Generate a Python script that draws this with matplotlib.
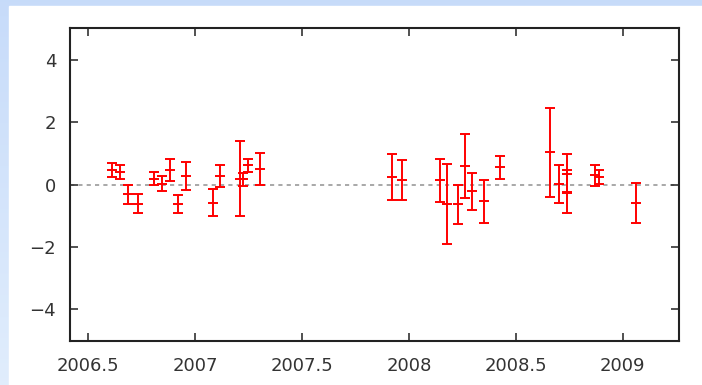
import numpy as np
import matplotlib
matplotlib.use("Agg")
import matplotlib.pyplot as plt
from matplotlib.patches import Rectangle

# epochs (decimal year), residual and 1-sigma error
t = [2006.610, 2006.649, 2006.688, 2006.734, 2006.809, 2006.847, 2006.883,
     2006.920, 2006.957, 2007.085, 2007.118, 2007.210, 2007.226, 2007.249,
     2007.305, 2007.922, 2007.969, 2008.147, 2008.177, 2008.231, 2008.261,
     2008.297, 2008.353, 2008.427, 2008.661, 2008.701, 2008.738, 2008.740,
     2008.870, 2008.890, 2009.062]
res = [0.46, 0.40, -0.31, -0.61, 0.19, 0.03, 0.46,
       -0.63, 0.27, -0.58, 0.27, 0.19, 0.17, 0.62,
       0.51, 0.24, 0.14, 0.13, -0.63, -0.64, 0.59,
       -0.22, -0.54, 0.55, 1.03, 0.03, 0.35, -0.23,
       0.30, 0.25, -0.58]
err = [0.22, 0.21, 0.31, 0.30, 0.21, 0.24, 0.35,
       0.28, 0.44, 0.42, 0.36, 1.21, 0.21, 0.21,
       0.51, 0.73, 0.63, 0.70, 1.28, 0.64, 1.03,
       0.60, 0.68, 0.36, 1.43, 0.61, 0.62, 0.68,
       0.34, 0.23, 0.64]

xticks = [2006.5, 2007, 2007.5, 2008, 2008.5, 2009]
xticklabels = ["2006.5", "2007", "2007.5", "2008", "2008.5", "2009"]
yticks = [-4, -2, 0, 2, 4]

W, H = 702, 385
fig = plt.figure(figsize=(W / 100, H / 100), dpi=100)

# pale blue page background with a white panel on top
bg = fig.add_axes([0, 0, 1, 1], zorder=-10)
grad = np.linspace(0, 1, 256).reshape(-1, 1)
top_c = np.array([0.78, 0.86, 0.98])
bot_c = np.array([0.88, 0.93, 0.99])
img = top_c + grad[..., None] * (bot_c - top_c)
bg.imshow(img, aspect="auto", extent=[0, 1, 0, 1], origin="upper")
bg.add_patch(Rectangle((9 / W, 0), 1, 1 - 6 / H, color="white"))
bg.set_xlim(0, 1)
bg.set_ylim(0, 1)
bg.axis("off")

ax = fig.add_axes([70 / W, 1 - 340.7 / H, (678.7 - 70) / W, (340.7 - 28.3) / H])
ax.set_facecolor("white")

ax.axhline(0, color="#9a9a9a", lw=1.2, ls=(0, (2.5, 2.5)), zorder=1)

ax.errorbar(t, res, yerr=err, fmt="_", color="red", ecolor="red",
            elinewidth=1.4, capsize=3.3, capthick=1.4, markersize=6.6,
            markeredgewidth=1.4, zorder=3)

ax.set_xlim(2006.415, 2009.262)
ax.set_ylim(-5, 5)
ax.set_xticks(xticks)
ax.set_xticklabels(xticklabels)
ax.set_yticks(yticks)
ax.set_yticklabels(["\u22124", "\u22122", "0", "2", "4"])
ax.tick_params(direction="in", length=6, width=1.2, top=True, right=True,
               labelsize=13, colors="#333333")
ax.tick_params(axis="x", pad=12)
ax.tick_params(axis="y", pad=10)
for s in ax.spines.values():
    s.set_linewidth(1.5)
    s.set_color("#222222")

fig.savefig("out.png", dpi=100)
